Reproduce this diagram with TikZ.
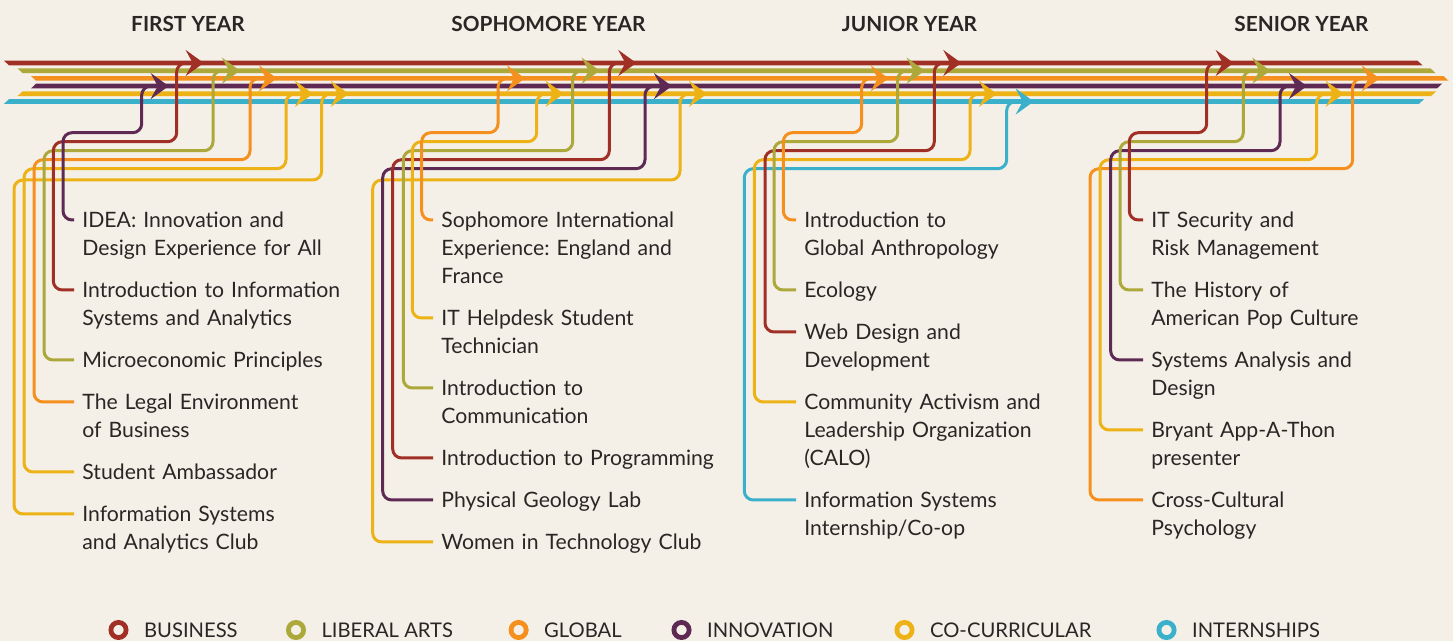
\documentclass[tikz,border=0pt]{standalone}
\usepackage{fontspec}
\setmainfont{Lato}
\usepackage{tikz}
\usetikzlibrary{arrows.meta, positioning}

\definecolor{bgcream}{RGB}{244,240,232}
\definecolor{inkgray}{RGB}{42,38,36}
\definecolor{business}{RGB}{160,48,38}
\definecolor{liberal}{RGB}{173,168,58}
\definecolor{global}{RGB}{245,144,30}
\definecolor{innovation}{RGB}{94,42,84}
\definecolor{cocurr}{RGB}{236,178,22}
\definecolor{intern}{RGB}{58,176,203}

\begin{document}
\begin{tikzpicture}[
    x=0.5pt, y=-0.5pt,
    >={Stealth[length=9pt 0 0, width=13pt 0 0, inset=3.5pt 0 0]},
    year/.style={
        inner sep=0pt,
        font=\fontsize{10.4}{12}\selectfont\bfseries,
        text=inkgray
    },
    course/.style={
        anchor=base west,
        align=left,
        text width=170pt,
        inner sep=0pt,
        font=\fontsize{10.6}{14}\selectfont\frenchspacing,
        text=inkgray
    },
    link/.style={->, line width=1.5pt, rounded corners=4.5pt},
    ring/.style={circle, line width=2.4pt, minimum size=7.6pt, inner sep=0pt},
    key/.style={
        right=7.6pt of #1,
        inner sep=0pt,
        font=\fontsize{10.1}{12}\selectfont,
        text=inkgray
    }
]
\useasboundingbox[fill=bgcream] (0,0) rectangle (1453,641);

% bands
\fill[business]   (4,60.65) -- (1417.5,60.65) -- (1422.5,65.35) -- (9,65.35) -- cycle;
\fill[liberal]    (17.5,68.35) -- (1430.5,68.35) -- (1435.5,73.05) -- (22.5,73.05) -- cycle;
\fill[global]     (31,76.05) -- (1443.5,76.05) -- (1448.5,80.75) -- (36,80.75) -- cycle;
\fill[innovation] (36,83.75) -- (1442,83.75) -- (1437,88.45) -- (31,88.45) -- cycle;
\fill[cocurr]     (22.5,91.45) -- (1436,91.45) -- (1431,96.15) -- (17.5,96.15) -- cycle;
\fill[intern]     (9,99.15) -- (1424,99.15) -- (1419,103.85) -- (4,103.85) -- cycle;

% arrow tips on the bands
\coordinate (fy1) at (168.7,86.1);
\coordinate (fy2) at (203.7,63);
\coordinate (fy3) at (240,70.7);
\coordinate (fy4) at (277,78.4);
\coordinate (fy5) at (313,93.8);
\coordinate (fy6) at (348.7,93.8);
\coordinate (sy1) at (525,78.4);
\coordinate (sy2) at (563.7,93.8);
\coordinate (sy3) at (599.7,70.7);
\coordinate (sy4) at (636.3,63);
\coordinate (sy5) at (672,86.1);
\coordinate (sy6) at (707,93.8);
\coordinate (jy1) at (888.7,78.4);
\coordinate (jy2) at (924.7,70.7);
\coordinate (jy3) at (961.3,63);
\coordinate (jy4) at (997,93.8);
\coordinate (jy5) at (1033.7,101.5);
\coordinate (ny1) at (1233.7,63);
\coordinate (ny2) at (1270.3,70.7);
\coordinate (ny3) at (1307,86.1);
\coordinate (ny4) at (1343.7,93.8);
\coordinate (ny5) at (1379.7,78.4);

% years
\node[year] (first) at (188,24) {FIRST YEAR};
\node[year] (soph) at (548.5,24) {SOPHOMORE YEAR};
\node[year] (junior) at (909.5,24) {JUNIOR YEAR};
\node[year] (senior) at (1301.5,24) {SENIOR YEAR};

% first year
\node[course] (idea) at (82,228) {IDEA: Innovation and\\Design Experience for All};
\node[course] (iisa) at (82,298) {Introduction to Information\\Systems and Analytics};
\node[course] (micro) at (82,368) {Microeconomic Principles};
\node[course] (legal) at (82,410) {The Legal Environment\\of Business};
\node[course] (amb) at (82,480) {Student Ambassador};
\node[course] (isac) at (82,522) {Information Systems\\and Analytics Club};

\draw[link, cocurr] ([shift={(-8,-8)}]isac.base west) -| (14,180) -| ([xshift=-13.5pt]fy6) -- (fy6);
\draw[link, cocurr] ([shift={(-8,-8)}]amb.base west) -| (24,168.7) -| ([xshift=-13.5pt]fy5) -- (fy5);
\draw[link, global] ([shift={(-8,-8)}]legal.base west) -| (34,159.7) -| ([xshift=-13.5pt]fy4) -- (fy4);
\draw[link, liberal] ([shift={(-8,-8)}]micro.base west) -| (44,150.7) -| ([xshift=-13.5pt]fy3) -- (fy3);
\draw[link, business] ([shift={(-8,-8)}]iisa.base west) -| (53.3,141.7) -| ([xshift=-13.5pt]fy2) -- (fy2);
\draw[link, innovation] ([shift={(-8,-8)}]idea.base west) -| (63,132.7) -| ([xshift=-13.5pt]fy1) -- (fy1);

% sophomore year
\node[course] (sie) at (441,228) {Sophomore International\\Experience: England and\\France};
\node[course] (ith) at (441,326) {IT Helpdesk Student\\Technician};
\node[course] (itc) at (441,396) {Introduction to\\Communication};
\node[course] (itp) at (441,466) {Introduction to Programming};
\node[course] (pgl) at (441,508) {Physical Geology Lab};
\node[course] (wtc) at (441,550) {Women in Technology Club};

\draw[link, cocurr] ([shift={(-8,-8)}]wtc.base west) -| (372.7,180) -| ([xshift=-13.5pt]sy6) -- (sy6);
\draw[link, innovation] ([shift={(-8,-8)}]pgl.base west) -| (382.7,168.7) -| ([xshift=-13.5pt]sy5) -- (sy5);
\draw[link, business] ([shift={(-8,-8)}]itp.base west) -| (392.7,159.7) -| ([xshift=-13.5pt]sy4) -- (sy4);
\draw[link, liberal] ([shift={(-8,-8)}]itc.base west) -| (403.3,150.7) -| ([xshift=-13.5pt]sy3) -- (sy3);
\draw[link, cocurr] ([shift={(-8,-8)}]ith.base west) -| (412.3,141.7) -| ([xshift=-13.5pt]sy2) -- (sy2);
\draw[link, global] ([shift={(-8,-8)}]sie.base west) -| (421.7,132.7) -| ([xshift=-13.5pt]sy1) -- (sy1);

% junior year
\node[course] (iga) at (804,228) {Introduction to\\Global Anthropology};
\node[course] (eco) at (804,298) {Ecology};
\node[course] (wdd) at (804,340) {Web Design and\\Development};
\node[course] (calo) at (804,410) {Community Activism and\\Leadership Organization\\(CALO)};
\node[course] (isic) at (804,508) {Information Systems\\Internship/Co-op};

\draw[link, intern] ([shift={(-8,-8)}]isic.base west) -| (744.3,168.7) -| ([xshift=-13.5pt]jy5) -- (jy5);
\draw[link, cocurr] ([shift={(-8,-8)}]calo.base west) -| (754.3,159.7) -| ([xshift=-13.5pt]jy4) -- (jy4);
\draw[link, business] ([shift={(-8,-8)}]wdd.base west) -| (765,150.7) -| ([xshift=-13.5pt]jy3) -- (jy3);
\draw[link, liberal] ([shift={(-8,-8)}]eco.base west) -| (774,141.7) -| ([xshift=-13.5pt]jy2) -- (jy2);
\draw[link, global] ([shift={(-8,-8)}]iga.base west) -| (783.3,132.7) -| ([xshift=-13.5pt]jy1) -- (jy1);

% senior year
\node[course] (itsrm) at (1151,228) {IT Security and\\Risk Management};
\node[course] (hapc) at (1151,298) {The History of\\American Pop Culture};
\node[course] (sad) at (1151,368) {Systems Analysis and\\Design};
\node[course] (bat) at (1151,438) {Bryant App-A-Thon\\presenter};
\node[course] (ccp) at (1151,508) {Cross-Cultural\\Psychology};

\draw[link, global] ([shift={(-8,-8)}]ccp.base west) -| (1090,168.7) -| ([xshift=-13.5pt]ny5) -- (ny5);
\draw[link, cocurr] ([shift={(-8,-8)}]bat.base west) -| (1100,159.7) -| ([xshift=-13.5pt]ny4) -- (ny4);
\draw[link, innovation] ([shift={(-8,-8)}]sad.base west) -| (1110.7,150.7) -| ([xshift=-13.5pt]ny3) -- (ny3);
\draw[link, liberal] ([shift={(-8,-8)}]hapc.base west) -| (1120,141.7) -| ([xshift=-13.5pt]ny2) -- (ny2);
\draw[link, business] ([shift={(-8,-8)}]itsrm.base west) -| (1129.3,132.7) -| ([xshift=-13.5pt]ny1) -- (ny1);

% legend
\node[ring, draw=business] (kbus) at (118.5,630) {};
\node[key=kbus] (lbus) {BUSINESS};
\node[ring, draw=liberal] (klib) at (296,630) {};
\node[key=klib] (llib) {LIBERAL ARTS};
\node[ring, draw=global] (kglo) at (518.6,630) {};
\node[key=kglo] (lglo) {GLOBAL};
\node[ring, draw=innovation] (kinn) at (681.5,630) {};
\node[key=kinn] (linn) {INNOVATION};
\node[ring, draw=cocurr] (kcoc) at (904.5,630) {};
\node[key=kcoc] (lcoc) {CO-CURRICULAR};
\node[ring, draw=intern] (kint) at (1166.5,630) {};
\node[key=kint] (lint) {INTERNSHIPS};
\end{tikzpicture}
\end{document}
